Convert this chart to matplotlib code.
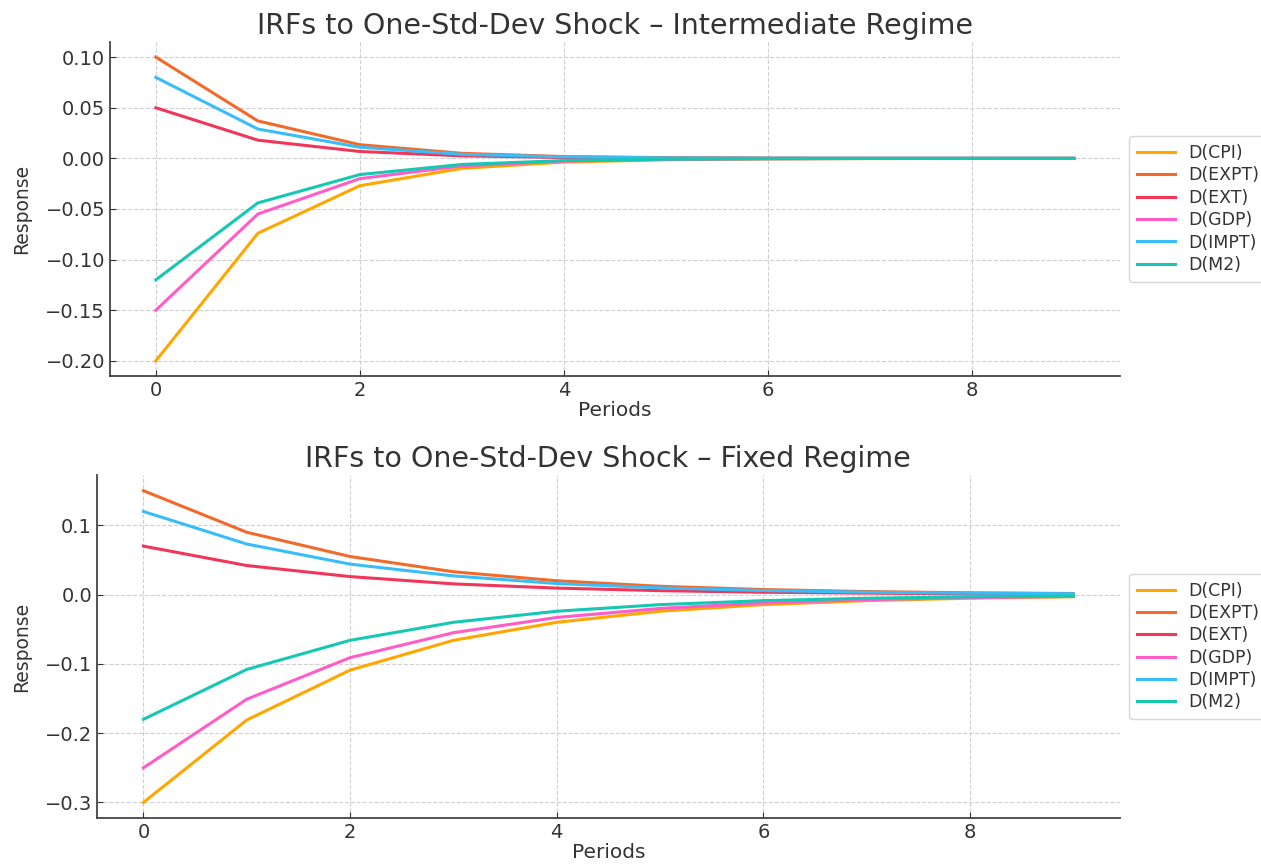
import numpy as np
import matplotlib
matplotlib.use('Agg')
import matplotlib.pyplot as plt

periods = list(range(10))
var_names = ['D(CPI)', 'D(EXPT)', 'D(EXT)', 'D(GDP)', 'D(IMPT)', 'D(M2)']
line_colors = ['#ffa600', '#f26a2a', '#f2365a', '#ff5cc8', '#38bdf8', '#14c8b4']

# intermediate regime responses
inter_cpi = [-0.20, -0.074, -0.027, -0.0099, -0.0037, -0.0014, -0.0005, -0.0002, -0.0001, 0.0]
inter_expt = [0.10, 0.037, 0.0135, 0.005, 0.0018, 0.0007, 0.0002, 0.0001, 0.0, 0.0]
inter_ext = [0.05, 0.018, 0.0068, 0.0025, 0.0009, 0.0003, 0.0001, 0.0, 0.0, 0.0]
inter_gdp = [-0.15, -0.055, -0.020, -0.0075, -0.0027, -0.0010, -0.0004, -0.0001, 0.0, 0.0]
inter_impt = [0.08, 0.029, 0.011, 0.004, 0.0015, 0.0005, 0.0002, 0.0001, 0.0, 0.0]
inter_m2 = [-0.12, -0.044, -0.016, -0.006, -0.0022, -0.0008, -0.0003, -0.0001, 0.0, 0.0]

# fixed regime responses
fixed_cpi = [-0.30, -0.181, -0.109, -0.066, -0.040, -0.024, -0.0145, -0.0087, -0.0052, -0.0031]
fixed_expt = [0.15, 0.090, 0.055, 0.033, 0.020, 0.012, 0.0073, 0.0044, 0.0026, 0.0016]
fixed_ext = [0.07, 0.042, 0.026, 0.0155, 0.0094, 0.0057, 0.0034, 0.0021, 0.0012, 0.0007]
fixed_gdp = [-0.25, -0.151, -0.091, -0.055, -0.033, -0.020, -0.012, -0.0073, -0.0044, -0.0026]
fixed_impt = [0.12, 0.073, 0.044, 0.027, 0.016, 0.0097, 0.0059, 0.0035, 0.0021, 0.0013]
fixed_m2 = [-0.18, -0.108, -0.066, -0.040, -0.024, -0.0145, -0.0087, -0.0052, -0.0032, -0.0019]

inter_all = [inter_cpi, inter_expt, inter_ext, inter_gdp, inter_impt, inter_m2]
fixed_all = [fixed_cpi, fixed_expt, fixed_ext, fixed_gdp, fixed_impt, fixed_m2]

text_col = '#333333'
plt.rcParams['font.family'] = ['DejaVu Sans']
plt.rcParams['text.color'] = text_col
plt.rcParams['axes.labelcolor'] = text_col
plt.rcParams['xtick.color'] = text_col
plt.rcParams['ytick.color'] = text_col


def draw_panel(ax, series, title):
    for vals, name, col in zip(series, var_names, line_colors):
        ax.plot(periods, vals, color=col, lw=2.2, label=name)
    ax.set_title(title, fontsize=20.5, color=text_col, pad=6)
    ax.set_xlabel('Periods', fontsize=14.5, labelpad=1)
    ax.set_ylabel('Response', fontsize=13.5, labelpad=10)
    ax.grid(True, linestyle='--', color='#d0d0d0', linewidth=0.8)
    ax.set_axisbelow(True)
    for s in ['top', 'right']:
        ax.spines[s].set_visible(False)
    for s in ['left', 'bottom']:
        ax.spines[s].set_color('#444444')
        ax.spines[s].set_linewidth(1.3)
    ax.tick_params(direction='in', labelsize=14, length=4)
    ax.set_xticks([0, 2, 4, 6, 8])
    leg = ax.legend(loc='center left', bbox_to_anchor=(1.0, 0.5), fontsize=12.5,
                    frameon=True, handlelength=2.2, handletextpad=0.75,
                    borderpad=0.45, labelspacing=0.25, borderaxespad=0.55)
    leg.get_frame().set_edgecolor('#cccccc')


fig = plt.figure(figsize=(12.61, 8.67), dpi=100)
ax1 = fig.add_axes([0.0872, 0.5663, 0.8008, 0.3853])
ax2 = fig.add_axes([0.0769, 0.0565, 0.8111, 0.3955])

draw_panel(ax1, inter_all, 'IRFs to One-Std-Dev Shock \u2013 Intermediate Regime')
draw_panel(ax2, fixed_all, 'IRFs to One-Std-Dev Shock \u2013 Fixed Regime')
ax1.set_yticks([0.10, 0.05, 0.0, -0.05, -0.10, -0.15, -0.20])
ax2.set_yticks([0.1, 0.0, -0.1, -0.2, -0.3])

fig.savefig('out.png', dpi=100)
